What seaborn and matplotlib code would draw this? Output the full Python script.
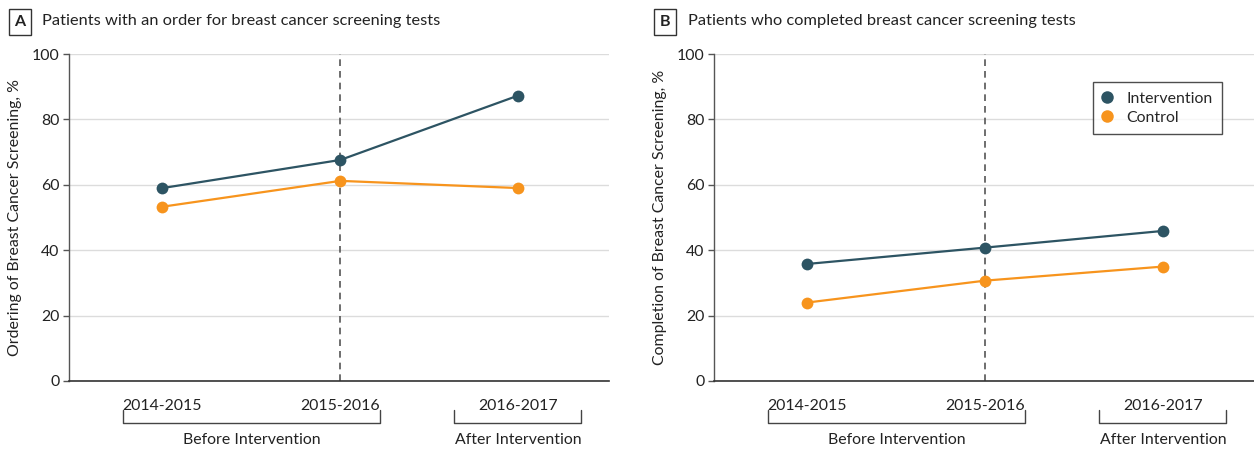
import matplotlib
matplotlib.use("Agg")
import matplotlib.pyplot as plt
import seaborn as sns
import pandas as pd

# Data
periods = ["2014-2015", "2015-2016", "2016-2017"]
groups = ["Intervention", "Control"]
ordering_intervention = [59.0, 67.6, 87.3]
ordering_control = [53.3, 61.2, 59.0]
completion_intervention = [35.8, 40.8, 45.9]
completion_control = [24.0, 30.7, 35.0]
panel_titles = ["Patients with an order for breast cancer screening tests",
                "Patients who completed breast cancer screening tests"]
panel_letters = ["A", "B"]
y_labels = ["Ordering of Breast Cancer Screening, %",
            "Completion of Breast Cancer Screening, %"]
y_ticks = [0, 20, 40, 60, 80, 100]

colors = {"Intervention": "#2d5463", "Control": "#f7941d"}

sns.set_theme(style="white")
plt.rcParams["font.family"] = ["Lato", "DejaVu Sans"]

FS = 11.4


def make_frame(interv, ctrl):
    rows = []
    for i, p in enumerate(periods):
        rows.append({"period": i, "group": "Intervention", "value": interv[i]})
        rows.append({"period": i, "group": "Control", "value": ctrl[i]})
    return pd.DataFrame(rows)


frames = [make_frame(ordering_intervention, ordering_control),
          make_frame(completion_intervention, completion_control)]

fig = plt.figure(figsize=(12.54, 4.49), dpi=100)
W, H = 1254, 449
ax_boxes = [(69, 54, 540, 327), (714, 54, 540, 327)]

for k in range(2):
    x0, y0, w, h = ax_boxes[k]
    ax = fig.add_axes([x0 / W, 1 - (y0 + h) / H, w / W, h / H])
    ax.set_ylim(0, 100)
    ax.set_xlim(-0.525, 2.51)
    ax.set_yticks(y_ticks)
    for t in y_ticks:
        ax.axhline(t, color="#dcdcdc", lw=1.0, zorder=0)
    ax.axvline(1, color="#555555", lw=1.2, ls=(0, (4, 3)), zorder=1)

    sns.lineplot(data=frames[k], x="period", y="value", hue="group",
                 hue_order=groups, palette=colors, marker="o",
                 markersize=8.5, markeredgewidth=0, linewidth=1.6,
                 ax=ax, legend=(k == 1), zorder=3)

    ax.set_xticks([0, 1, 2])
    ax.set_xticklabels(periods)
    ax.set_xlabel("")
    ax.set_ylabel(y_labels[k], fontsize=FS, color="#222222", labelpad=7)
    ax.tick_params(axis="y", which="major", left=True, length=4, width=1,
                   color="#555555", labelsize=FS, labelcolor="#222222", pad=3)
    ax.tick_params(axis="x", bottom=False, labelsize=FS, labelcolor="#222222", pad=7)
    for s in ["top", "right"]:
        ax.spines[s].set_visible(False)
    ax.spines["left"].set_color("#555555")
    ax.spines["bottom"].set_color("#333333")
    ax.spines["left"].set_linewidth(1.0)
    ax.spines["bottom"].set_linewidth(1.2)

    # group brackets under the period labels
    trans = ax.get_xaxis_transform()
    for (xa, xb, label) in [(-0.22, 1.225, "Before Intervention"),
                            (1.64, 2.355, "After Intervention")]:
        ax.plot([xa, xa, xb, xb], [-0.089, -0.128, -0.128, -0.089],
                transform=trans, color="#444444", lw=1.0, clip_on=False)
        ax.text((xa + xb) / 2, -0.18, label, transform=trans, ha="center",
                va="center", fontsize=FS, color="#222222")

    if k == 1:
        leg = ax.legend(loc="upper right", bbox_to_anchor=(0.941, 0.914),
                        borderaxespad=0, frameon=True, fancybox=False,
                        fontsize=FS, handlelength=0.6, handletextpad=0.9,
                        borderpad=0.6, labelspacing=0.3)
        leg.get_frame().set_edgecolor("#222222")
        leg.get_frame().set_linewidth(1.0)
        for line in leg.get_lines():
            line.set_linestyle("none")
            line.set_markersize(9)

    # panel letter and title
    lx = [20, 665][k]
    fig.text(lx / W, 1 - 22 / H, panel_letters[k], ha="center", va="center",
             fontsize=11.5, fontweight="bold", color="#222222",
             bbox=dict(boxstyle="square,pad=0.35", fc="white", ec="#333333", lw=1.0))
    fig.text([42, 688][k] / W, 1 - 21 / H, panel_titles[k], ha="left",
             va="center", fontsize=11.8, color="#222222")

fig.savefig("out.png", dpi=100)
